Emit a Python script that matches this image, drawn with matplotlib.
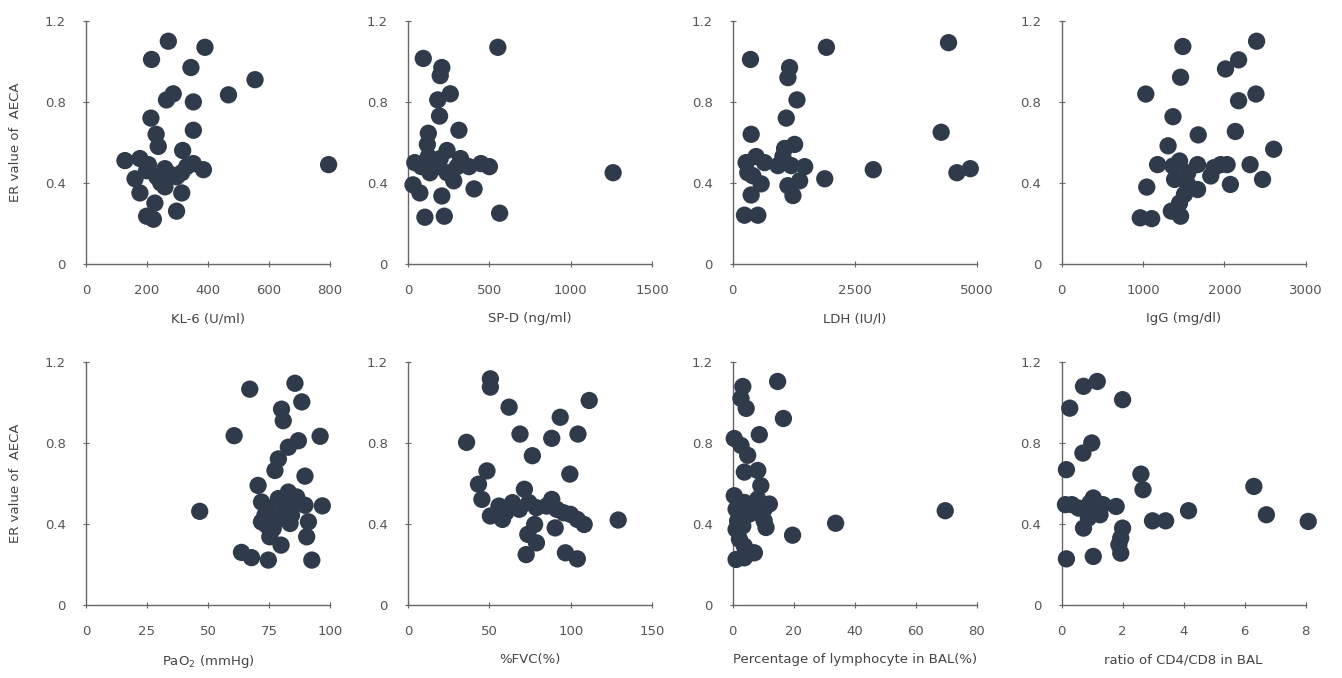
import matplotlib
matplotlib.use("Agg")
import matplotlib.pyplot as plt
import numpy as np

# ER value of AECA vs. clinical parameters
kl6_x = [270, 390, 215, 344, 554, 286, 264, 352, 467, 213, 230, 237, 352, 317, 795,
         128, 177, 161, 199, 232, 259, 259, 297, 314, 177, 226, 199, 221, 297, 330,
         352, 385, 314, 205, 245, 280]
kl6_y = [1.10, 1.07, 1.01, 0.97, 0.91, 0.84, 0.81, 0.80, 0.835, 0.72, 0.64, 0.58, 0.66, 0.56, 0.49,
         0.51, 0.52, 0.42, 0.46, 0.43, 0.47, 0.38, 0.43, 0.35, 0.35, 0.30, 0.235, 0.22, 0.26, 0.48,
         0.495, 0.465, 0.45, 0.49, 0.40, 0.44]

spd_x = [552, 94, 208, 198, 260, 183, 194, 313, 125, 119, 240, 1260, 563, 104, 223,
         42, 31, 73, 135, 177, 208, 240, 281, 323, 375, 406, 448, 500, 125, 302, 83, 198]
spd_y = [1.07, 1.015, 0.97, 0.93, 0.84, 0.81, 0.73, 0.66, 0.645, 0.59, 0.56, 0.45, 0.25, 0.23, 0.235,
         0.50, 0.39, 0.35, 0.45, 0.48, 0.335, 0.45, 0.41, 0.52, 0.48, 0.37, 0.495, 0.48, 0.53, 0.48, 0.48, 0.52]

ldh_x = [4418, 1918, 363, 1164, 1130, 1315, 1096, 377, 4267, 1267, 1062, 2877, 1884, 4589, 4863,
         240, 514, 377, 582, 274, 651, 925, 1199, 1473, 1370, 1233, 1130, 411, 479, 308, 1027]
ldh_y = [1.093, 1.07, 1.01, 0.97, 0.92, 0.81, 0.72, 0.64, 0.65, 0.59, 0.57, 0.465, 0.42, 0.45, 0.47,
         0.24, 0.24, 0.34, 0.395, 0.50, 0.50, 0.485, 0.485, 0.48, 0.41, 0.337, 0.386, 0.435, 0.53, 0.45, 0.53]

igg_x = [2396, 1490, 2175, 2014, 1462, 1035, 2388, 2175, 1369, 2135, 1679, 1309, 2606, 1047, 2469,
         967, 1108, 1349, 1462, 1450, 1180, 1369, 1450, 1389, 1551, 1671, 1671, 1551, 1510, 1873,
         1954, 2074, 2034, 2316, 1833]
igg_y = [1.10, 1.074, 1.008, 0.963, 0.922, 0.839, 0.839, 0.806, 0.727, 0.654, 0.637, 0.583, 0.566, 0.379, 0.417,
         0.227, 0.223, 0.26, 0.235, 0.30, 0.49, 0.483, 0.508, 0.417, 0.45, 0.49, 0.367, 0.392, 0.343, 0.475,
         0.49, 0.392, 0.49, 0.49, 0.434]

pao2_x = [85.6, 67.1, 88.4, 80.1, 80.8, 60.7, 95.9, 87.0, 82.9, 78.8, 77.4, 89.7, 70.5, 82.9, 46.6,
          96.8, 63.7, 67.8, 74.7, 79.9, 92.5, 90.4, 91.1, 89.7, 71.9, 74.7, 74.0, 76.7, 79.5, 81.5,
          84.2, 85.6, 83.6, 75.3, 73.3, 71.9, 78.8, 86.3]
pao2_y = [1.095, 1.066, 1.003, 0.967, 0.91, 0.836, 0.833, 0.811, 0.779, 0.721, 0.664, 0.636, 0.59, 0.557, 0.462,
          0.489, 0.259, 0.233, 0.221, 0.295, 0.221, 0.336, 0.41, 0.492, 0.508, 0.475, 0.393, 0.377, 0.426, 0.475,
          0.443, 0.508, 0.402, 0.336, 0.443, 0.41, 0.525, 0.533]

fvc_x = [50.6, 50.6, 62.1, 111.3, 93.5, 68.8, 104.4, 88.3, 36.0, 76.4, 48.5, 99.4, 43.3, 71.5, 129.1,
         45.4, 50.6, 55.9, 60.0, 64.2, 68.4, 74.3, 78.9, 85.1, 88.3, 91.4, 95.6, 90.4, 99.8, 104.0,
         108.2, 77.8, 73.6, 78.9, 72.6, 96.7, 104.0, 58.0]
fvc_y = [1.117, 1.076, 0.977, 1.01, 0.927, 0.844, 0.844, 0.823, 0.803, 0.737, 0.662, 0.646, 0.596, 0.571, 0.419,
         0.521, 0.439, 0.488, 0.455, 0.505, 0.472, 0.505, 0.48, 0.488, 0.521, 0.472, 0.455, 0.38, 0.447, 0.422,
         0.397, 0.397, 0.348, 0.306, 0.248, 0.257, 0.227, 0.422]

lym_x = [14.7, 3.3, 2.7, 4.4, 16.6, 8.7, 0.5, 2.7, 4.9, 8.2, 3.8, 9.2, 69.6, 33.7, 19.6,
         0.5, 1.1, 3.8, 6.0, 8.2, 10.3, 12.0, 10.3, 9.2, 10.9, 1.6, 1.1, 3.3, 2.2, 3.8,
         1.1, 3.8, 7.1, 5.4, 6.0]
lym_y = [1.104, 1.079, 1.02, 0.971, 0.921, 0.841, 0.822, 0.788, 0.739, 0.664, 0.656, 0.589, 0.465, 0.403, 0.344,
         0.539, 0.473, 0.506, 0.49, 0.523, 0.473, 0.498, 0.415, 0.448, 0.382, 0.415, 0.373, 0.39, 0.324, 0.29,
         0.224, 0.232, 0.257, 0.448, 0.257]

cd48_x = [1.17, 0.72, 2.0, 0.27, 0.99, 0.70, 0.16, 2.6, 2.67, 6.3, 6.71, 8.08, 4.16, 2.98, 3.41,
          0.16, 1.04, 2.0, 1.94, 1.88, 1.94, 0.13, 0.34, 0.56, 0.72, 0.93, 1.1, 1.26, 1.36, 1.79,
          0.88, 1.04]
cd48_y = [1.104, 1.08, 1.014, 0.972, 0.80, 0.75, 0.668, 0.646, 0.569, 0.585, 0.445, 0.412, 0.465, 0.415, 0.415,
          0.227, 0.239, 0.379, 0.33, 0.297, 0.255, 0.495, 0.495, 0.478, 0.379, 0.503, 0.478, 0.445, 0.495, 0.486,
          0.429, 0.528]

panels = [
    (kl6_x, kl6_y, "KL-6 (U/ml)", [0, 200, 400, 600, 800]),
    (spd_x, spd_y, "SP-D (ng/ml)", [0, 500, 1000, 1500]),
    (ldh_x, ldh_y, "LDH (IU/l)", [0, 2500, 5000]),
    (igg_x, igg_y, "IgG (mg/dl)", [0, 1000, 2000, 3000]),
    (pao2_x, pao2_y, r"PaO$_2$ (mmHg)", [0, 25, 50, 75, 100]),
    (fvc_x, fvc_y, "%FVC(%)", [0, 50, 100, 150]),
    (lym_x, lym_y, "Percentage of lymphocyte in BAL(%)", [0, 20, 40, 60, 80]),
    (cd48_x, cd48_y, "ratio of CD4/CD8 in BAL", [0, 2, 4, 6, 8]),
]

plt.rcParams["font.family"] = ["DejaVu Sans"]
plt.rcParams["mathtext.default"] = "regular"

fig = plt.figure(figsize=(13.42, 6.78), dpi=100)
lefts = [0.064, 0.304, 0.546, 0.791]
bottoms = [0.611, 0.108]
w, h = 0.182, 0.358
dot = "#2f3a4a"
grey = "#666666"

for i, (x, y, xlabel, xticks) in enumerate(panels):
    ax = fig.add_axes([lefts[i % 4], bottoms[i // 4], w, h])
    ax.scatter(x, y, s=155, color=dot, edgecolors="none", zorder=3, clip_on=False)
    ax.set_xlim(xticks[0], xticks[-1])
    ax.set_ylim(0, 1.2)
    ax.set_xticks(xticks)
    ax.set_xticklabels([str(t) for t in xticks])
    ax.set_yticks([0, 0.4, 0.8, 1.2])
    ax.set_yticklabels(["0", "0.4", "0.8", "1.2"])
    for side in ["top", "right"]:
        ax.spines[side].set_visible(False)
    for side in ["left", "bottom"]:
        ax.spines[side].set_color(grey)
        ax.spines[side].set_linewidth(1.0)
    ax.tick_params(direction="inout", length=5, width=0.8, color=grey,
                   labelcolor="#555555", labelsize=9.5)
    ax.tick_params(axis="x", pad=12)
    ax.tick_params(axis="y", pad=12)
    ax.set_xlabel(xlabel, fontsize=9.5, color="#444444", labelpad=11)
    if i % 4 == 0:
        ax.set_ylabel("ER value of  AECA", fontsize=9.5, color="#444444", labelpad=16)

fig.savefig("out.png", dpi=100)
